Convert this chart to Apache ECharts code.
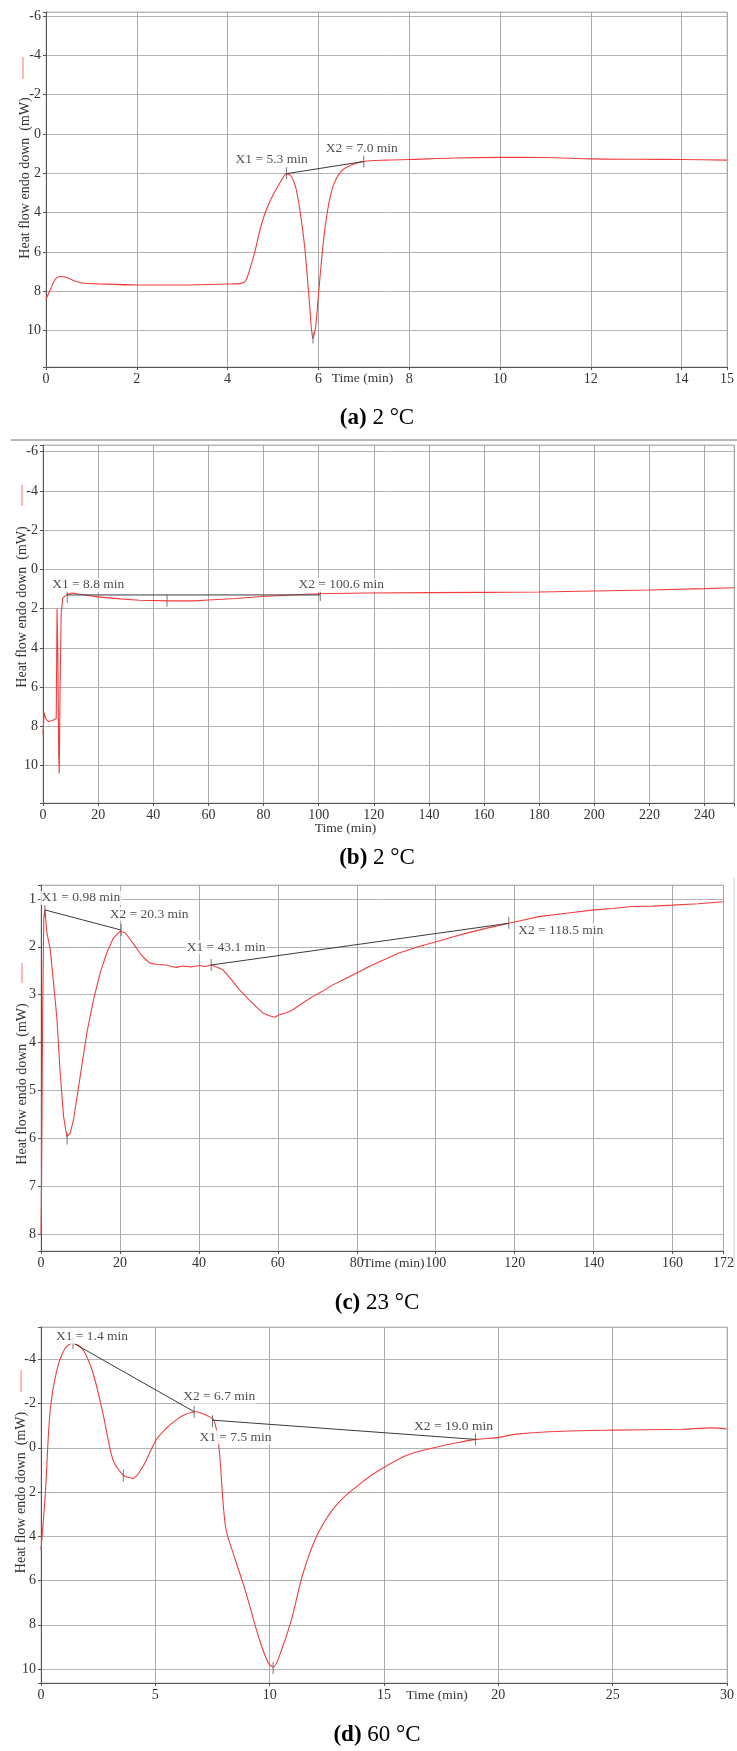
<!DOCTYPE html>
<html>
<head>
<meta charset="utf-8">
<script src="https://cdn.jsdelivr.net/npm/echarts@6.0.0/dist/echarts.min.js"></script>
<style>
  html, body { margin: 0; padding: 0; background: #fff; }
  #div-chart { width: 737px; height: 1751px; }
</style>
</head>
<body>
<div id="div-chart"></div>
<script>
"use strict";

//
// Data
//
// (a) 2 °C, first 15 min
const a_time = [0, 0.1, 0.2, 0.3, 0.45, 0.6, 0.8, 1.2, 2, 3, 4, 4.3, 4.4, 4.5, 4.6, 4.7, 4.8, 4.9, 5.0, 5.1, 5.2, 5.3, 5.4, 5.5, 5.6, 5.7, 5.8, 5.88, 5.94, 6.0, 6.07, 6.15, 6.25, 6.35, 6.5, 6.7, 7.0, 7.5, 8, 9, 10, 11, 12, 13, 14, 15];
const a_flow = [8.4, 7.9, 7.4, 7.25, 7.3, 7.45, 7.58, 7.63, 7.68, 7.68, 7.63, 7.6, 7.45, 6.8, 6.0, 5.0, 4.2, 3.6, 3.1, 2.7, 2.3, 2.02, 2.15, 2.7, 4.0, 5.8, 8.5, 10.4, 9.8, 8.2, 6.4, 4.7, 3.3, 2.5, 1.9, 1.6, 1.4, 1.33, 1.3, 1.22, 1.19, 1.2, 1.27, 1.29, 1.3, 1.33];
const a_ann_x = [5.3, 7.0];
const a_ann_y = [2.02, 1.4];
const a_ann_text = ["X1 = 5.3 min", "X2 = 7.0 min"];
const a_tick_x = [5.3, 5.88, 7.0];
const a_tick_y = [2.0, 10.35, 1.4];

// (b) 2 °C, full run
const b_time = [0, 0.4, 1, 2, 3.5, 4.8, 5.1, 5.4, 5.7, 5.9, 6.2, 6.6, 7.2, 8.8, 10.5, 14, 20, 28, 35, 45, 55, 60, 70, 81, 90, 100, 117, 140, 160, 180, 200, 220, 240, 250.7];
const b_flow = [8.4, 7.3, 7.6, 7.75, 7.7, 7.6, 2.0, 4.5, 9.5, 10.4, 6.0, 2.2, 1.45, 1.27, 1.2, 1.28, 1.4, 1.5, 1.57, 1.6, 1.6, 1.56, 1.48, 1.37, 1.3, 1.24, 1.2, 1.18, 1.17, 1.15, 1.1, 1.05, 0.98, 0.93];
const b_ann_x = [8.8, 100.6];
const b_ann_y = [1.3, 1.3];
const b_ann_text = ["X1 = 8.8 min", "X2 = 100.6 min"];
const b_tick_x = [8.8, 45, 100.6];
const b_tick_y = [1.4, 1.6, 1.3];

// (c) 23 °C
const c_time = [0, 0.15, 0.4, 0.7, 0.98, 1.5, 2.35, 4.0, 4.87, 5.71, 6.55, 7.4, 8.24, 9.92, 11.6, 13.3, 14.96, 16.65, 18.3, 20.0, 20.3, 21.2, 22.1, 23.5, 25.05, 26.3, 27.6, 29.5, 31.8, 33.0, 34.3, 36.0, 38.0, 40.2, 41.5, 43.1, 44.5, 46.1, 48.2, 50.3, 52.4, 54.5, 56.2, 57.9, 59.2, 60.4, 62.0, 63.7, 66.2, 68.8, 71.3, 73.8, 77.2, 80.6, 83.1, 86.9, 90.7, 95.5, 100.4, 104.0, 107.6, 113.0, 118.5, 122.3, 126.1, 133.1, 140.1, 144.8, 149.6, 155.0, 160.1, 166.5, 172.9];
const c_flow = [8.0, 6.9, 3.5, 1.4, 1.23, 1.71, 2.06, 3.46, 4.64, 5.54, 5.96, 5.89, 5.61, 4.71, 3.8, 3.11, 2.55, 2.13, 1.82, 1.68, 1.65, 1.7, 1.79, 1.95, 2.13, 2.25, 2.34, 2.37, 2.38, 2.41, 2.43, 2.4, 2.42, 2.39, 2.41, 2.38, 2.42, 2.48, 2.68, 2.9, 3.08, 3.25, 3.38, 3.44, 3.47, 3.42, 3.38, 3.32, 3.18, 3.04, 2.93, 2.8, 2.66, 2.52, 2.41, 2.27, 2.13, 2.0, 1.89, 1.8, 1.72, 1.61, 1.51, 1.44, 1.37, 1.3, 1.23, 1.2, 1.16, 1.15, 1.13, 1.1, 1.06];
const c_ann_x = [0.98, 20.3, 43.1, 118.5];
const c_ann_y = [1.23, 1.65, 2.38, 1.51];
const c_ann_text = ["X1 = 0.98 min", "X2 = 20.3 min", "X1 = 43.1 min", "X2 = 118.5 min"];
const c_tick_x = [0.98, 6.6, 20.3, 43.1, 118.5];
const c_tick_y = [1.25, 6.0, 1.65, 2.38, 1.5];

// (d) 60 °C
const d_time = [0, 0.19, 0.4, 0.69, 1.05, 1.41, 1.85, 2.28, 2.71, 3.15, 3.58, 3.8, 4.02, 4.45, 5.03, 5.45, 5.9, 6.3, 6.76, 7.2, 7.56, 7.78, 8.07, 8.5, 8.93, 9.51, 9.94, 10.16, 10.52, 10.95, 11.46, 12.11, 12.98, 14.2, 15.05, 16.03, 17.04, 18.2, 19.06, 20.02, 20.8, 22.8, 25.02, 28.03, 29.3, 30];
const d_flow = [4.62, 2.06, -1.7, -3.5, -4.49, -4.74, -4.41, -3.36, -1.55, 0.56, 1.23, 1.33, 1.38, 0.86, -0.35, -0.85, -1.25, -1.5, -1.63, -1.48, -1.25, -0.05, 3.57, 5.07, 6.43, 8.53, 9.73, 9.91, 9.13, 7.78, 5.67, 3.87, 2.51, 1.43, 0.86, 0.33, 0.03, -0.23, -0.38, -0.47, -0.62, -0.75, -0.8, -0.84, -0.9, -0.85];
const d_ann_x = [1.4, 6.7, 7.5, 19.0];
const d_ann_y = [-4.74, -1.63, -1.25, -0.38];
const d_ann_text = ["X1 = 1.4 min", "X2 = 6.7 min", "X1 = 7.5 min", "X2 = 19.0 min"];
const d_tick_x = [1.4, 3.6, 6.7, 7.5, 10.15, 19.0];
const d_tick_y = [-4.74, 1.25, -1.63, -1.2, 9.95, -0.4];

// panel captions
const captions = [["(a)", "2 °C"], ["(b)", "2 °C"], ["(c)", "23 °C"], ["(d)", "60 °C"]];

//
// Layout / styles
//
const FONT = "Liberation Serif";
const RED = "#f23d3d";
const html_div_chart = document.getElementById("div-chart");

const panels = [
  {
    time: a_time, flow: a_flow, smooth: 0.3,
    ann: [a_ann_x, a_ann_y, a_ann_text], ticks: [a_tick_x, a_tick_y],
    segments: [[0, 1]],
    label_offsets: [[-15, -14], [-2, -13]],
    grid: { left: 46, top: 12, width: 686, height: 355 },
    x: { min: 0, max: 15, interval: 2, fmt: (v) => String(v), nameGap: 4, namePad: [0, 48, 0, 0] },
    y: { min: -6.2, max: 11.85, step: 2, split: 9, nameGap: 14, namePad: [0, 0, 0, 23] },
    legend_y: [57, 79], legend_x: 23,
    caption_y: 418,
  },
  {
    time: b_time, flow: b_flow, smooth: false,
    ann: [b_ann_x, b_ann_y, b_ann_text], ticks: [b_tick_x, b_tick_y],
    segments: [[0, 1]],
    label_offsets: [[21, -10], [21, -10]],
    grid: { left: 43, top: 445, width: 692, height: 358 },
    x: { min: 0, max: 250.7, interval: 20, fmt: (v) => (v % 20 === 0 ? String(v) : ""), nameGap: 18, namePad: [0, 86, 0, 0] },
    y: { min: -6.34, max: 11.9, step: 2, split: 9, nameGap: 14, namePad: [0, 0, 0, 34] },
    legend_y: [485, 506], legend_x: 22,
    caption_y: 858,
  },
  {
    time: c_time, flow: c_flow, smooth: false,
    ann: [c_ann_x, c_ann_y, c_ann_text], ticks: [c_tick_x, c_tick_y],
    segments: [[0, 1], [2, 3]],
    label_offsets: [[36, -12], [28, -16], [15, -18], [52, 7]],
    grid: { left: 41, top: 885, width: 685, height: 366 },
    x: { min: 0, max: 172.9, interval: 20, fmt: (v) => (v % 20 === 0 ? String(v) : String(Math.floor(v))), nameGap: 5, namePad: [0, 0, 0, 23] },
    y: { min: 0.71, max: 8.35, step: 1, split: 8, nameGap: 12, namePad: [0, 32, 0, 0] },
    legend_y: [963, 983], legend_x: 22,
    caption_y: 1303,
  },
  {
    time: d_time, flow: d_flow, smooth: 0.3,
    ann: [d_ann_x, d_ann_y, d_ann_text], ticks: [d_tick_x, d_tick_y],
    segments: [[0, 1], [2, 3]],
    label_offsets: [[19, -6], [25, -15], [23, 17], [-22, -13]],
    grid: { left: 41, top: 1327, width: 692, height: 356 },
    x: { min: 0, max: 30, interval: 5, fmt: (v) => String(v), nameGap: 5, namePad: [0, 0, 0, 106] },
    y: { min: -5.46, max: 10.63, step: 2, split: 8, nameGap: 13, namePad: [0, 0, 0, 25] },
    legend_y: [1370, 1392], legend_x: 21,
    caption_y: 1735,
  },
];

//
// Small helpers
//
function zip(xs, ys) {
  return xs.map((x, i) => [x, ys[i]]);
}

function y_label_formatter(step) {
  return (v) => (Math.abs(v / step - Math.round(v / step)) < 1e-6 ? String(Math.round(v)) : "");
}

//
// Build option
//
const grids = [];
const x_axes = [];
const y_axes = [];
const series = [];
const graphics = [];

panels.forEach((p, i) => {
  grids.push(Object.assign({ show: true, borderColor: "#c4c4c4", borderWidth: 1 }, p.grid));

  x_axes.push({
    gridIndex: i,
    type: "value",
    min: p.x.min,
    max: p.x.max,
    interval: p.x.interval,
    name: "Time (min)",
    nameLocation: "middle",
    nameGap: p.x.nameGap,
    nameMoveOverlap: false,
    nameTextStyle: { fontFamily: FONT, fontSize: 13.5, color: "#333", padding: p.x.namePad, verticalAlign: "top" },
    axisLine: { onZero: false, lineStyle: { color: "#555", width: 1 } },
    axisTick: { show: true, length: 3, lineStyle: { color: "#555" } },
    axisLabel: { fontFamily: FONT, fontSize: 14, color: "#333", margin: 5, formatter: p.x.fmt, hideOverlap: false },
    splitLine: { show: true, lineStyle: { color: "#a9a9a9", width: 1 } },
  });

  y_axes.push({
    gridIndex: i,
    type: "value",
    inverse: true,
    min: p.y.min,
    max: p.y.max,
    splitNumber: p.y.split,
    minInterval: p.y.step,
    maxInterval: p.y.step,
    name: "Heat flow endo down  (mW)",
    nameLocation: "middle",
    nameRotate: 90,
    nameGap: p.y.nameGap,
    nameMoveOverlap: false,
    nameTextStyle: { fontFamily: FONT, fontSize: 14, color: "#333", padding: p.y.namePad },
    axisLine: { show: true, onZero: false, lineStyle: { color: "#555", width: 1 } },
    axisTick: { show: true, length: 3, lineStyle: { color: "#555" } },
    axisLabel: { fontFamily: FONT, fontSize: 14, color: "#333", margin: 5, formatter: y_label_formatter(p.y.step), hideOverlap: false },
    splitLine: { show: true, lineStyle: { color: "#b4b4b4", width: 1 } },
  });

  // measured curve
  series.push({
    type: "line",
    xAxisIndex: i,
    yAxisIndex: i,
    data: zip(p.time, p.flow),
    smooth: p.smooth,
    showSymbol: false,
    lineStyle: { color: RED, width: 1.1 },
    z: 3,
  });

  // baseline segments between X1/X2
  const ann_pts = zip(p.ann[0], p.ann[1]);
  p.segments.forEach((seg) => {
    series.push({
      type: "line",
      xAxisIndex: i,
      yAxisIndex: i,
      data: [ann_pts[seg[0]], ann_pts[seg[1]]],
      showSymbol: false,
      lineStyle: { color: "#3a3a3a", width: 1 },
      z: 4,
    });
  });

  // small vertical markers
  series.push({
    type: "scatter",
    xAxisIndex: i,
    yAxisIndex: i,
    data: zip(p.ticks[0], p.ticks[1]),
    symbol: "rect",
    symbolSize: [1, 12],
    itemStyle: { color: "#555" },
    z: 5,
  });

  // X1 / X2 labels
  series.push({
    type: "scatter",
    xAxisIndex: i,
    yAxisIndex: i,
    symbolSize: 0,
    data: ann_pts.map((pt, k) => ({
      name: p.ann[2][k],
      value: pt,
      label: { offset: p.label_offsets[k] },
    })),
    label: {
      show: true,
      position: "inside",
      formatter: "{b}",
      fontFamily: FONT,
      fontSize: 13.5,
      color: "#222",
      backgroundColor: "#fff",
      padding: [0, 1],
    },
    z: 6,
  });

  // small red legend mark on the left
  graphics.push({
    type: "line",
    shape: { x1: p.legend_x, y1: p.legend_y[0], x2: p.legend_x, y2: p.legend_y[1] },
    style: { stroke: "#ff7070", lineWidth: 1 },
  });

  // caption under the panel
  graphics.push({
    type: "text",
    x: 377,
    y: p.caption_y,
    style: {
      text: "{b|" + captions[i][0] + "} " + captions[i][1],
      rich: { b: { fontWeight: "bold", fontFamily: FONT, fontSize: 23, fill: "#000" } },
      fontFamily: FONT,
      fontSize: 23,
      fill: "#000",
      align: "center",
      verticalAlign: "middle",
    },
  });
});

// separator under (a) and thin border right of (c)
graphics.push({
  type: "line",
  shape: { x1: 11, y1: 440, x2: 737, y2: 440 },
  style: { stroke: "#707070", lineWidth: 1 },
});
graphics.push({
  type: "line",
  shape: { x1: 734, y1: 878, x2: 734, y2: 1268 },
  style: { stroke: "#d0d0d0", lineWidth: 1 },
});

const chart = echarts.init(html_div_chart, null, { renderer: "canvas" });
chart.setOption({
  backgroundColor: "#fff",
  animation: false,
  grid: grids,
  xAxis: x_axes,
  yAxis: y_axes,
  series: series,
  graphic: graphics,
});
</script>
</body>
</html>
